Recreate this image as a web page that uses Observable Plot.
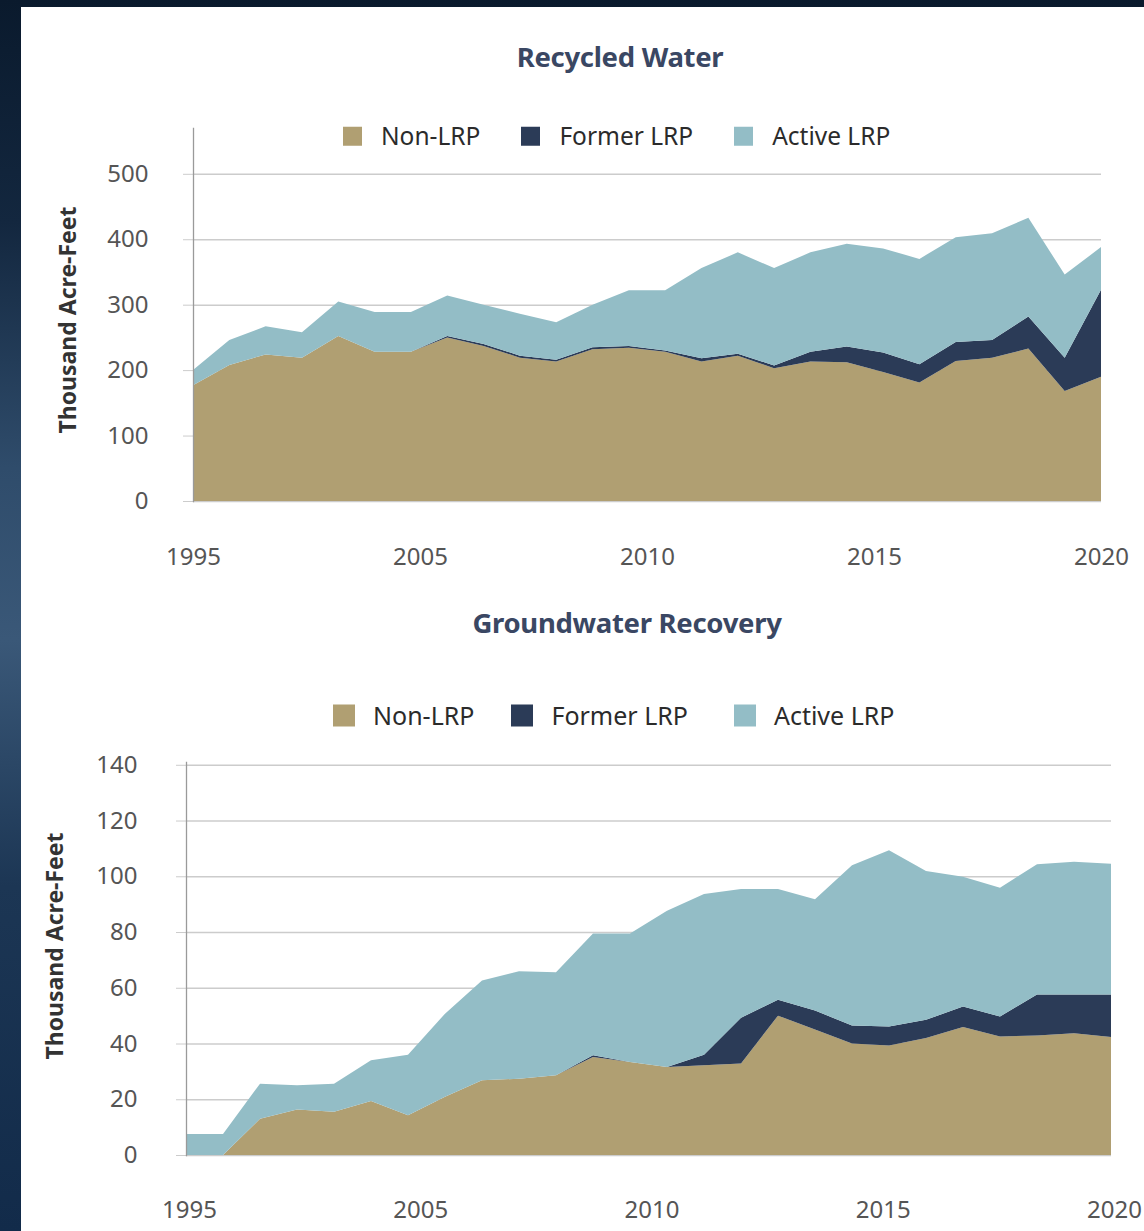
<!DOCTYPE html>
<html><head><meta charset="utf-8">
<script src="https://cdn.jsdelivr.net/npm/d3@7"></script>
<script src="https://cdn.jsdelivr.net/npm/@observablehq/plot@0.6"></script>
<style>
html,body{margin:0;padding:0;}
body{width:1144px;height:1231px;position:relative;overflow:hidden;
  background:linear-gradient(180deg,#0a1a2d 0%,#13273f 18%,#2f4c6b 38%,#3a5878 52%,#1c3654 72%,#122b4a 100%);
  font-family:"Noto Sans",sans-serif;}
#panel{position:absolute;left:21px;top:7px;right:0;bottom:0;background:#fff;}
.title{position:absolute;transform:translate(-50%,-50%);font-weight:700;font-size:27.5px;line-height:1;color:#3a4763;white-space:nowrap;letter-spacing:-0.3px}
.legend{position:absolute;display:flex;align-items:center;font-size:24.5px;line-height:1;color:#2b2b2b;transform:translateY(-50%)}
.legend .item{display:flex;align-items:center;margin-right:41px}
.legend .sw{width:19px;height:19px;margin-right:19px}
.legend.b{font-size:25px}
.legend.b .sw{width:22px;height:22px;margin-right:18px}
.legend.b .item:nth-child(1){margin-right:37px}
.legend.b .item:nth-child(2){margin-right:46px}
.chart{position:absolute;left:0;}
.chart svg{background:transparent;overflow:visible}
</style></head>
<body>
<div id="panel"></div>
<script>
// ---- data ----
const years = [1995,1996,1997,1998,1999,2000,2001,2002,2003,2004,2005,2006,2007,2008,2009,2010,2011,2012,2013,2014,2015,2016,2017,2018,2019,2020];
const seriesNames = ["Non-LRP","Former LRP","Active LRP"];
const seriesColors = ["#b09f72","#2b3b57","#93bdc6"];
const xTickLabels = ["1995","2005","2010","2015","2020"];

// Recycled Water (thousand acre-feet)
const rwNon    = [177,208,224,219,252,228,228,250,237,219,213,232,234,228,213,222,203,213,212,197,181,214,219,233,168,190];
const rwFormer = [0,0,0,0,0,0,0,2,3,3,3,3,3,2,5,3,4,15,24,30,28,29,27,49,51,133];
const rwActive = [23,38,43,39,53,61,61,62,60,64,57,65,85,92,138,155,149,152,157,159,161,160,163,151,127,65];
const rwYTicks = [0,100,200,300,400,500];

// Groundwater Recovery (thousand acre-feet)
const gwNon    = [0,0,13,16.3,15.5,19.4,14.3,20.9,26.8,27.4,28.6,35.2,33.4,31.6,32.2,32.8,50,45,40,39.3,42,45.9,42.5,42.9,43.7,42.3];
const gwFormer = [0,0,0,0,0,0,0,0,0,0,0,0.6,0,0,3.8,16.4,5.7,6.8,6.5,6.8,6.5,7.4,7.2,14.7,13.9,15.3];
const gwActive = [7.5,7.5,12.6,8.7,10.1,14.6,21.7,29.8,35.8,38.5,37,43.7,46.1,56,57.6,46.2,39.7,40,57.5,63.2,53.4,46.5,46.2,46.7,47.6,46.9];
const gwYTicks = [0,20,40,60,80,100,120,140];

const yLabel = "Thousand Acre-Feet";

function longData(non, former, active){
  const out = [];
  [non, former, active].forEach((arr, s) => arr.forEach((v, i) => out.push({year: years[i], series: seriesNames[s], value: v})));
  return out;
}

// evenly spaced tick positions across the year domain (as in the original chart)
const x0 = years[0], x1 = years[years.length-1];
const tickPos = xTickLabels.map((_, i) => x0 + i * (x1 - x0) / (xTickLabels.length - 1));
const tickFmt = v => xTickLabels[tickPos.findIndex(p => Math.abs(p - v) < 1e-6)];

function makeChart(cfg){
  return Plot.plot({
    width: 1144, height: cfg.height,
    marginLeft: cfg.ml, marginRight: cfg.mr, marginTop: cfg.mt, marginBottom: cfg.mb,
    style: {fontFamily: '"Noto Sans", sans-serif', background: "transparent", overflow: "visible"},
    x: {domain: [x0, x1]},
    y: {domain: cfg.ydomain},
    color: {domain: seriesNames, range: seriesColors},
    marks: [
      Plot.gridY(cfg.yticks, {stroke: "#cccccc", strokeOpacity: 1, strokeWidth: 1.5}),
      Plot.axisY(cfg.yticks, {tickSize: 10, tickPadding: cfg.tp, stroke: "#cccccc", fill: "#555", fontSize: 24, label: null}),
      Plot.areaY(longData(...cfg.data), {x: "year", y: "value", fill: "series", order: seriesNames, curve: "linear"}),
      Plot.frame({anchor: "left", stroke: "#9a9a9a", strokeWidth: 1.3}),
      Plot.axisX(tickPos, {tickSize: 0, tickPadding: cfg.xtp, tickFormat: tickFmt, fill: "#555", fontSize: 24, dx: cfg.xdx, label: null}),
      Plot.text([yLabel], {frameAnchor: "left", textAnchor: "middle", lineAnchor: "middle", rotate: -90, dx: cfg.ldx, dy: cfg.ldy, fontSize: 23, fontWeight: 700, fill: "#333"})
    ]
  });
}

function addAbs(el, cls, left, top){ el.classList.add(cls); el.style.left = left+"px"; el.style.top = top+"px"; document.body.appendChild(el); return el; }

function addTitle(text, cx, cy){
  const d = document.createElement("div"); d.textContent = text;
  addAbs(d, "title", cx, cy);
}
function addLegend(left, cy, extra){
  const d = document.createElement("div");
  if (extra) d.classList.add(extra);
  seriesNames.forEach((n, i) => {
    const it = document.createElement("div"); it.className = "item";
    const sw = document.createElement("div"); sw.className = "sw"; sw.style.background = seriesColors[i];
    const t = document.createElement("span"); t.textContent = n;
    it.appendChild(sw); it.appendChild(t); d.appendChild(it);
  });
  addAbs(d, "legend", left, cy);
}

// top chart
const c1 = document.createElement("div");
c1.appendChild(makeChart({height: 500, ml: 193, mr: 43, mt: 28, mb: 99, ydomain: [0, 570], yticks: rwYTicks, tp: 35, xtp: 46, xdx: 0,
  data: [rwNon, rwFormer, rwActive], ldx: -125, ldy: 5}));
addAbs(c1, "chart", 0, 100);

// bottom chart
const c2 = document.createElement("div");
c2.appendChild(makeChart({height: 491, ml: 186, mr: 33, mt: 22, mb: 76, ydomain: [0, 141], yticks: gwYTicks, tp: 39, xtp: 45, xdx: 3,
  data: [gwNon, gwFormer, gwActive], ldx: -131, ldy: -13}));
addAbs(c2, "chart", 0, 740);

addTitle("Recycled Water", 620, 57);
addTitle("Groundwater Recovery", 627, 623);
addLegend(343, 136);
addLegend(333, 715, "b");
</script>
</body></html>
